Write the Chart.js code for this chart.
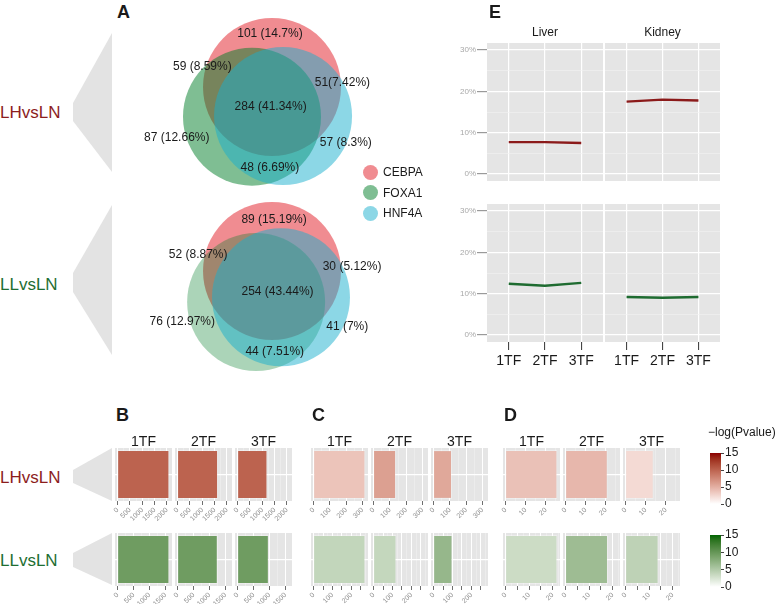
<!DOCTYPE html>
<html>
<head>
<meta charset="utf-8">
<script src="https://cdn.jsdelivr.net/npm/chart.js@4.4.1/dist/chart.umd.min.js"></script>
<style>
  body { margin: 0; background: #fff; font-family: "Liberation Sans", Arial, Helvetica, sans-serif; }
  #fig { position: relative; width: 777px; height: 604px; overflow: hidden; }
  #fig canvas, .txt, .dot { position: absolute; }
  .txt { line-height: 1; white-space: nowrap; color: #1a1a1a; }
  .dot { width: 15px; height: 15px; border-radius: 50%; }
</style>
</head>
<body>
<div id="fig">
  <svg width="777" height="604" style="position:absolute;left:0;top:0">
    <polygon points="112,33 73,103 73,121 112,172" fill="#E3E3E3"/>
    <polygon points="112,205 73,273 73,292 112,355" fill="#E3E3E3"/>
    <polygon points="112,448 73,470 73,483 112,501" fill="#E3E3E3"/>
    <polygon points="112,533 73,553 73,567 112,585" fill="#E3E3E3"/>
  </svg>
</div>
<script>
// ---- data ----
const TF_LABELS = ['1TF', '2TF', '3TF'];
const TISSUES = ['Liver', 'Kidney'];
const COMPARISONS = ['LHvsLN', 'LLvsLN'];
const VENN_SETS = ['CEBPA', 'FOXA1', 'HNF4A'];

const VENN_LH_LABELS = ['101 (14.7%)', '59 (8.59%)', '51(7.42%)', '284 (41.34%)', '87 (12.66%)', '57 (8.3%)', '48 (6.69%)'];
const VENN_LL_LABELS = ['89 (15.19%)', '52 (8.87%)', '30 (5.12%)', '254 (43.44%)', '76 (12.97%)', '41 (7%)', '44 (7.51%)'];
// circle centres, in circle-radius units
const VENN_LH_CX = [0, -0.29, 0.16];
const VENN_LH_CY = [0, -0.43, -0.42];
const VENN_LL_CX = [0, -0.23, 0.13];
const VENN_LL_CY = [0, -0.45, -0.38];
// where each region count sits, same units
const VENN_LH_LX = [-0.03, -1.01, 1.02, -0.02, -1.38, 1.07, -0.03];
const VENN_LH_LY = [0.77, 0.29, 0.06, -0.29, -0.74, -0.81, -1.17];
const VENN_LL_LX = [0.03, -1.07, 1.16, 0.08, -1.30, 1.09, 0.04];
const VENN_LL_LY = [0.75, 0.23, 0.06, -0.30, -0.74, -0.81, -1.17];

// panel E, percent
const E_LH_LIVER = [7.7, 7.7, 7.5];
const E_LH_KIDNEY = [17.5, 18.0, 17.8];
const E_LL_LIVER = [12.4, 11.9, 12.6];
const E_LL_KIDNEY = [9.2, 9.0, 9.2];
const E_Y_TICKS = [0, 10, 20, 30];
const E_Y_MINOR = [5, 15, 25];

// panels B, C, D: bar length and -log(Pvalue)
const B_LH_COUNT = [2100, 1640, 1210];
const B_LL_COUNT = [1625, 1260, 980];
const C_LH_COUNT = [318, 138, 113];
const C_LL_COUNT = [274, 121, 100];
const D_LH_COUNT = [25.8, 21, 14];
const D_LL_COUNT = [22, 18, 14];
const B_LH_LOGP = [10, 10, 10];
const B_LL_LOGP = [9.4, 9.4, 9.4];
const C_LH_LOGP = [3.7, 6.0, 5.5];
const C_LL_LOGP = [3.9, 3.8, 6.8];
const D_LH_LOGP = [3.9, 4.5, 2.3];
const D_LL_LOGP = [3.3, 6.3, 4.2];

const B_LH_TICKS = [0, 500, 1000, 1500, 2000];
const B_LH_TICK_LABELS = ['0', '500', '1000', '1500', '2000'];
const B_LL_TICKS = [0, 500, 1000, 1500];
const B_LL_TICK_LABELS = ['0', '500', '1000', '1500'];
const C_LH_TICKS = [0, 100, 200, 300];
const C_LH_TICK_LABELS = ['0', '100', '200', '300'];
const C_LL_TICKS = [0, 50, 100, 150, 200, 250];
const C_LL_TICK_LABELS = ['0', '', '100', '', '200', ''];
const D_LH_TICKS = [0, 10, 20];
const D_LH_TICK_LABELS = ['0', '10', '20'];
const D_LL_TICKS = [0, 5, 10, 15, 20];
const D_LL_TICK_LABELS = ['0', '', '10', '', '20'];

const LEGEND_TICKS = [0, 5, 10, 15];

// ---- colours ----
const WHITE = [255, 255, 255];
const RED_HI = [139, 0, 0];
const GREEN_HI = [0, 100, 0];
const LH_TEXT = '#8C1D1D';
const LL_TEXT = '#1E6E32';

function toLin(c) { c /= 255; return c <= 0.04045 ? c / 12.92 : Math.pow((c + 0.055) / 1.055, 2.4); }
function fromLin(c) {
  const v = c <= 0.0031308 ? 12.92 * c : 1.055 * Math.pow(c, 1 / 2.4) - 0.055;
  return Math.round(Math.max(0, Math.min(1, v)) * 255);
}
function rgbToLab(rgb) {
  const R = toLin(rgb[0]), G = toLin(rgb[1]), B = toLin(rgb[2]);
  const f = t => t > 0.008856 ? Math.cbrt(t) : 7.787 * t + 16 / 116;
  const x = f((R * 0.4124 + G * 0.3576 + B * 0.1805) / 0.95047);
  const y = f(R * 0.2126 + G * 0.7152 + B * 0.0722);
  const z = f((R * 0.0193 + G * 0.1192 + B * 0.9505) / 1.08883);
  return [116 * y - 16, 500 * (x - y), 200 * (y - z)];
}
function labToRgb(lab) {
  const fi = t => t * t * t > 0.008856 ? t * t * t : (t - 16 / 116) / 7.787;
  const y0 = (lab[0] + 16) / 116;
  const x = fi(lab[1] / 500 + y0) * 0.95047, y = fi(y0), z = fi(y0 - lab[2] / 200) * 1.08883;
  return [
    fromLin(x * 3.2406 - y * 1.5372 - z * 0.4986),
    fromLin(-x * 0.9689 + y * 1.8758 + z * 0.0415),
    fromLin(x * 0.0557 - y * 0.2040 + z * 1.0570)
  ];
}
function ramp(hi, t) {
  const a = rgbToLab(WHITE), b = rgbToLab(hi);
  const c = labToRgb(a.map((v, i) => v + (b[i] - v) * t));
  return 'rgb(' + c.join(',') + ')';
}

// ---- helpers ----
const fig = document.getElementById('fig');
Chart.defaults.font.family = '"Liberation Sans", Arial, Helvetica, sans-serif';
Chart.defaults.animation = false;
Chart.defaults.responsive = false;
Chart.defaults.devicePixelRatio = 1;
Chart.defaults.plugins.legend.display = false;
Chart.defaults.plugins.tooltip.enabled = false;

Chart.register({
  id: 'panelBg',
  beforeDraw(chart, args, opts) {
    if (!opts || !opts.color) return;
    const a = chart.chartArea, ctx = chart.ctx;
    ctx.save();
    ctx.fillStyle = opts.color;
    ctx.fillRect(a.left, a.top, a.right - a.left, a.bottom - a.top);
    ctx.restore();
  }
});

function addCanvas(area, m) {
  const c = document.createElement('canvas');
  const w = area.w + m.l + m.r, h = area.h + m.t + m.b;
  c.width = w; c.height = h;
  c.style.left = (area.x - m.l) + 'px';
  c.style.top = (area.y - m.t) + 'px';
  c.style.width = w + 'px';
  c.style.height = h + 'px';
  fig.appendChild(c);
  return c;
}

const fixSize = size => scale => {
  if (scale.isHorizontal()) scale.height = size; else scale.width = size;
  scale.paddingTop = scale.paddingBottom = scale.paddingLeft = scale.paddingRight = 0;
};

function addText(text, x, y, o) {
  const d = document.createElement('div');
  d.className = 'txt';
  d.textContent = text;
  d.style.left = x + 'px';
  d.style.top = y + 'px';
  d.style.fontSize = (o.size || 12) + 'px';
  if (o.bold) d.style.fontWeight = 'bold';
  if (o.color) d.style.color = o.color;
  d.style.transform = o.center ? 'translate(-50%,-50%)' : 'translate(0,-50%)';
  fig.appendChild(d);
}

// ---- A: venn diagrams ----
const VENN_X = [-2.058, 1.739], VENN_Y = [-1.638, 1.261];
function venn(top, cx, cy, alphas, labels, lx, ly) {
  const canvas = addCanvas({x: 130, y: top, w: 262, h: 200}, {l: 0, t: 0, r: 0, b: 0});
  const base = [[225, 25, 35], [0, 125, 40], [25, 175, 205]];
  return new Chart(canvas, {
    type: 'scatter',
    data: {
      datasets: [{
        data: cx.map((x, i) => ({x: x, y: cy[i]})),
        backgroundColor: base.map((c, i) => 'rgba(' + c.join(',') + ',' + alphas[i] + ')'),
        borderWidth: 0,
        pointRadius: ctx => {
          const s = ctx.chart.scales.x;
          return s.getPixelForValue(1) - s.getPixelForValue(0);
        },
        clip: false
      }]
    },
    options: {
      layout: {padding: 0},
      scales: {
        x: {display: false, min: VENN_X[0], max: VENN_X[1]},
        y: {display: false, min: VENN_Y[0], max: VENN_Y[1]}
      }
    },
    plugins: [{
      id: 'vennLabels',
      afterDatasetsDraw(chart) {
        const ctx = chart.ctx, sx = chart.scales.x, sy = chart.scales.y;
        ctx.save();
        ctx.font = '12px "Liberation Sans", Arial, sans-serif';
        ctx.fillStyle = '#1a1a1a';
        ctx.textAlign = 'center';
        ctx.textBaseline = 'middle';
        labels.forEach((t, i) => ctx.fillText(t, sx.getPixelForValue(lx[i]), sy.getPixelForValue(ly[i])));
        ctx.restore();
      }
    }]
  });
}
venn(0, VENN_LH_CX, VENN_LH_CY, [0.5, 0.5, 0.5], VENN_LH_LABELS, VENN_LH_LX, VENN_LH_LY);
venn(184, VENN_LL_CX, VENN_LL_CY, [0.5, 0.33, 0.5], VENN_LL_LABELS, VENN_LL_LX, VENN_LL_LY);

const LEGEND_DOTS = ['rgb(240,140,145)', 'rgb(127,190,147)', 'rgb(140,215,230)'];
VENN_SETS.forEach((name, i) => {
  const y = 172 + i * 20.5;
  const d = document.createElement('div');
  d.className = 'dot';
  d.style.left = '363px';
  d.style.top = (y - 7.5) + 'px';
  d.style.background = LEGEND_DOTS[i];
  fig.appendChild(d);
  addText(name, 383, y, {size: 12});
});

// ---- E: line facets ----
function eChart(area, values, color, showY, showX) {
  const m = {l: showY ? 28 : 0, t: 6, r: 2, b: showX ? 30 : 0};
  const canvas = addCanvas(area, m);
  const isMajor = v => E_Y_TICKS.includes(v);
  return new Chart(canvas, {
    type: 'line',
    data: {
      datasets: [{
        data: values.map((v, i) => ({x: i + 1, y: v})),
        borderColor: color,
        borderWidth: 2.4,
        pointRadius: 0,
        tension: 0
      }]
    },
    options: {
      layout: {padding: {top: m.t, right: m.r, left: 0, bottom: 0}},
      plugins: {panelBg: {color: '#E5E5E5'}},
      scales: {
        x: {
          type: 'linear', min: 0.4, max: 3.6,
          afterBuildTicks: s => { s.ticks = TF_LABELS.map((t, i) => ({value: i + 1})); },
          afterFit: fixSize(m.b),
          ticks: {display: showX, callback: v => TF_LABELS[v - 1], font: {size: 14}, color: '#1a1a1a',
                  padding: 3, autoSkip: false, maxRotation: 0},
          grid: {color: '#FFFFFF', lineWidth: 1.2, drawTicks: showX, tickLength: 8, tickColor: '#333333', tickWidth: 1},
          border: {display: false}
        },
        y: {
          min: -1.7, max: 31.7,
          afterBuildTicks: s => { s.ticks = E_Y_TICKS.concat(E_Y_MINOR).sort((a, b) => a - b).map(v => ({value: v})); },
          afterFit: fixSize(m.l),
          ticks: {display: showY, callback: v => isMajor(v) ? v + '%' : '', font: {size: 8}, color: '#A8A8A8',
                  padding: 1, autoSkip: false},
          grid: {
            color: c => isMajor(c.tick.value) ? '#FFFFFF' : '#F2F2F2',
            lineWidth: c => isMajor(c.tick.value) ? 1.2 : 0.6,
            drawTicks: showY, tickLength: 10,
            tickColor: c => isMajor(c.tick.value) ? '#9A9A9A' : 'rgba(0,0,0,0)'
          },
          border: {display: false}
        }
      }
    }
  });
}
eChart({x: 487, y: 43, w: 116, h: 138}, E_LH_LIVER, '#8B1A1A', true, false);
eChart({x: 605, y: 43, w: 115, h: 138}, E_LH_KIDNEY, '#8B1A1A', false, false);
eChart({x: 487, y: 204, w: 116, h: 138}, E_LL_LIVER, '#1E6B30', true, true);
eChart({x: 605, y: 204, w: 115, h: 138}, E_LL_KIDNEY, '#1E6B30', false, true);
addText(TISSUES[0], 545, 32, {size: 12, center: true});
addText(TISSUES[1], 662.5, 32, {size: 12, center: true});

// ---- B, C, D: bar facets ----
function barPanel(area, value, logp, hi, range, ticks, tickLabels) {
  const m = {l: 10, t: 2, r: 2, b: 22};
  const canvas = addCanvas(area, m);
  const grid = ticks.slice();
  for (let i = 0; i < ticks.length; i++) {
    const step = i + 1 < ticks.length ? ticks[i + 1] - ticks[i] : ticks[i] - ticks[i - 1];
    const mid = ticks[i] + step / 2;
    if (mid < range[1]) grid.push(mid);
  }
  grid.sort((a, b) => a - b);
  const isTick = v => ticks.includes(v);
  return new Chart(canvas, {
    type: 'bar',
    data: {
      labels: [''],
      datasets: [{
        data: [value],
        backgroundColor: ramp(hi, logp / 15),
        borderColor: 'rgba(255,255,255,0.3)',
        borderWidth: 1,
        categoryPercentage: 0.92,
        barPercentage: 1
      }]
    },
    options: {
      indexAxis: 'y',
      layout: {padding: {top: m.t, right: m.r, left: m.l, bottom: 0}},
      plugins: {panelBg: {color: '#E5E5E5'}},
      scales: {
        x: {
          type: 'linear', min: range[0], max: range[1],
          afterBuildTicks: s => { s.ticks = grid.map(v => ({value: v})); },
          afterFit: fixSize(m.b),
          ticks: {callback: v => isTick(v) ? tickLabels[ticks.indexOf(v)] : '', font: {size: 7}, color: '#8E8E8E',
                  minRotation: 45, maxRotation: 45, autoSkip: false, padding: 1},
          grid: {
            color: c => isTick(c.tick.value) ? '#FFFFFF' : 'rgba(255,255,255,0.55)',
            lineWidth: c => isTick(c.tick.value) ? 1 : 0.5,
            tickLength: 4,
            tickColor: c => isTick(c.tick.value) ? '#6E6E6E' : 'rgba(0,0,0,0)'
          },
          border: {display: false}
        },
        y: {
          type: 'category',
          afterFit: fixSize(0),
          ticks: {display: false},
          grid: {offset: false, color: '#FFFFFF', lineWidth: 1.2, drawTicks: false},
          border: {display: false}
        }
      }
    }
  });
}

const PANEL_W = 57, PANEL_STEP = 60, PANEL_H = 53;
const ROWS_Y = [448, 533];
const GROUPS = [
  {letter: 'B', x: 115, rows: [
    [B_LH_COUNT, B_LH_LOGP, B_LH_TICKS, B_LH_TICK_LABELS],
    [B_LL_COUNT, B_LL_LOGP, B_LL_TICKS, B_LL_TICK_LABELS]]},
  {letter: 'C', x: 311, rows: [
    [C_LH_COUNT, C_LH_LOGP, C_LH_TICKS, C_LH_TICK_LABELS],
    [C_LL_COUNT, C_LL_LOGP, C_LL_TICKS, C_LL_TICK_LABELS]]},
  {letter: 'D', x: 503, rows: [
    [D_LH_COUNT, D_LH_LOGP, D_LH_TICKS, D_LH_TICK_LABELS],
    [D_LL_COUNT, D_LL_LOGP, D_LL_TICKS, D_LL_TICK_LABELS]]}
];
GROUPS.forEach(g => {
  addText(g.letter, g.x + 1, 415, {size: 18, bold: true});
  g.rows.forEach((row, r) => {
    const [counts, logp, ticks, labels] = row;
    const top = Math.max(...counts);
    const range = [-0.05 * top, 1.05 * top];
    const hi = r === 0 ? RED_HI : GREEN_HI;
    counts.forEach((v, i) => {
      barPanel({x: g.x + i * PANEL_STEP, y: ROWS_Y[r], w: PANEL_W, h: PANEL_H}, v, logp[i], hi, range, ticks, labels);
    });
  });
  TF_LABELS.forEach((t, i) => addText(t, g.x + i * PANEL_STEP + PANEL_W / 2, 441, {size: 14, center: true}));
});

// ---- colour bar legends ----
function colorbar(area, hi) {
  const canvas = addCanvas(area, {l: 0, t: 8, r: 24, b: 8});
  return new Chart(canvas, {
    type: 'bar',
    data: {
      labels: [''],
      datasets: [{
        data: [LEGEND_TICKS[LEGEND_TICKS.length - 1]],
        backgroundColor: ctx => {
          const a = ctx.chart.chartArea;
          if (!a) return ramp(hi, 0.5);
          const g = ctx.chart.ctx.createLinearGradient(0, a.bottom, 0, a.top);
          for (let i = 0; i <= 10; i++) g.addColorStop(i / 10, ramp(hi, i / 10));
          return g;
        },
        borderWidth: 0,
        categoryPercentage: 1,
        barPercentage: 1
      }]
    },
    options: {
      layout: {padding: {top: 8, bottom: 8, left: 0, right: 0}},
      scales: {
        x: {display: false},
        y: {
          position: 'right', min: 0, max: 15,
          afterBuildTicks: s => { s.ticks = LEGEND_TICKS.map(v => ({value: v})); },
          afterFit: fixSize(24),
          ticks: {font: {size: 12}, color: '#1a1a1a', padding: 1, autoSkip: false},
          grid: {drawOnChartArea: false, tickLength: 3, tickColor: '#444444'},
          border: {display: false}
        }
      }
    }
  });
}
colorbar({x: 710, y: 453, w: 11, h: 51}, RED_HI);
colorbar({x: 710, y: 535, w: 11, h: 52}, GREEN_HI);
addText('\u2212log(Pvalue)', 708, 432, {size: 12});

// ---- panel letters and row labels ----
addText('A', 117, 12, {size: 18, bold: true});
addText('E', 489, 12, {size: 18, bold: true});
addText(COMPARISONS[0], 0, 112, {size: 17, color: LH_TEXT});
addText(COMPARISONS[1], 0, 284, {size: 17, color: LL_TEXT});
addText(COMPARISONS[0], 0, 477, {size: 17, color: LH_TEXT});
addText(COMPARISONS[1], 0, 560, {size: 17, color: LL_TEXT});
</script>
</body>
</html>
